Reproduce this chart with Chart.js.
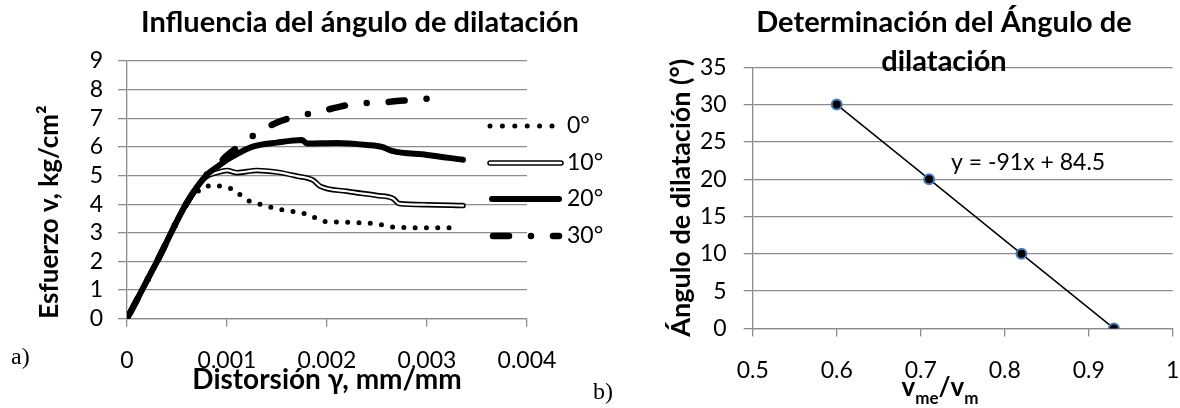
<!DOCTYPE html>
<html>
<head>
<meta charset="utf-8">
<script src="https://cdn.jsdelivr.net/npm/chart.js@4.4.0/dist/chart.umd.min.js"></script>
<style>
  html, body { margin: 0; padding: 0; background: #fff; overflow: hidden; width: 1180px; height: 408px; }
  #left { position: absolute; left: 0; top: 0; }
  #right { position: absolute; left: 600px; top: 0; }
  .tag { position: absolute; font-family: 'Liberation Serif', serif; font-size: 24px; color: #000; }
</style>
</head>
<body>
<canvas id="left" width="720" height="408"></canvas>
<canvas id="right" width="688" height="408"></canvas>
<div class="tag" style="left:11px; top:343px;">a)</div>
<div class="tag" style="left:593px; top:378px;">b)</div>
<script>
// Left chart: stress vs strain for each dilatation angle
const seriesNames = ['0°', '10°', '20°', '30°'];

const strain0 = [0, 0.0003, 0.00059, 0.00075, 0.00086, 0.00098, 0.00109, 0.00117, 0.0013, 0.0015, 0.0017, 0.00184, 0.00194, 0.0021, 0.0023, 0.0025, 0.0027, 0.0029, 0.0031, 0.0033];
const stress0 = [0, 2, 4, 4.55, 4.65, 4.6, 4.46, 4.2, 4.03, 3.84, 3.72, 3.6, 3.42, 3.38, 3.35, 3.31, 3.19, 3.18, 3.18, 3.18];

const strain10 = [0, 0.0003, 0.00059, 0.00079, 0.0009, 0.001, 0.0011, 0.0013, 0.0015, 0.0017, 0.00186, 0.00193, 0.0022, 0.0025, 0.00266, 0.00272, 0.003, 0.00336];
const stress10 = [0, 2, 4, 4.95, 5.1, 5.18, 5.1, 5.18, 5.12, 4.98, 4.84, 4.63, 4.45, 4.3, 4.2, 4.02, 3.98, 3.95];

const strain20 = [0, 0.0003, 0.00059, 0.00079, 0.0009, 0.001, 0.0011, 0.00125, 0.0015, 0.00175, 0.0018, 0.0021, 0.0024, 0.00255, 0.00265, 0.003, 0.00336];
const stress20 = [0, 2, 4, 5.0, 5.3, 5.55, 5.75, 6.0, 6.15, 6.24, 6.12, 6.14, 6.07, 6.0, 5.86, 5.72, 5.55];

const strain30 = [0, 0.0003, 0.00059, 0.00079, 0.0009, 0.001, 0.00115, 0.0013, 0.0015, 0.0017, 0.0019, 0.0021, 0.0023, 0.0025, 0.0027, 0.0029, 0.0032];
const stress30 = [0, 2, 4, 5.0, 5.35, 5.7, 6.1, 6.48, 6.85, 7.07, 7.21, 7.38, 7.52, 7.54, 7.6, 7.66, 7.72];

const leftXTicks = [0, 0.001, 0.002, 0.003, 0.004];
const leftXLabels = ['0', '0.001', '0.002', '0.003', '0.004'];
const leftYTicks = [0, 1, 2, 3, 4, 5, 6, 7, 8, 9];
const leftYLabels = ['0', '1', '2', '3', '4', '5', '6', '7', '8', '9'];

// Right chart: dilatation angle vs v_me/v_m
const velRatio = [0.6, 0.71, 0.82, 0.93];
const dilAngle = [30, 20, 10, 0];
const rightXTicks = [0.5, 0.6, 0.7, 0.8, 0.9, 1];
const rightXLabels = ['0.5', '0.6', '0.7', '0.8', '0.9', '1'];
const rightYTicks = [0, 5, 10, 15, 20, 25, 30, 35];
const rightYLabels = ['0', '5', '10', '15', '20', '25', '30', '35'];
const trendText = 'y = -91x + 84.5';

const GRID = '#8c8c8c';
Chart.defaults.font.family = 'Lato';
Chart.defaults.color = '#000';

function pts(xs, ys) {
    return xs.map((x, i) => ({ x: x, y: ys[i] }));
}

function fixedAxis(values, labels, extra) {
    return Object.assign({
        type: 'linear',
        min: values[0],
        max: values[values.length - 1],
        afterBuildTicks: s => { s.ticks = values.map(v => ({ value: v })); }
    }, extra);
}

function stroke(ctx, x1, x2, y, width, color, dash, offset) {
    ctx.beginPath();
    ctx.lineWidth = width;
    ctx.strokeStyle = color;
    ctx.lineCap = 'round';
    ctx.setLineDash(dash || []);
    ctx.lineDashOffset = offset || 0;
    ctx.moveTo(x1, y);
    ctx.lineTo(x2, y);
    ctx.stroke();
}

// legend sits over the plot, on the right side
const sideLegend = {
    id: 'sideLegend',
    afterDraw(chart) {
        const ctx = chart.ctx;
        const rows = [126, 163, 199, 236];
        ctx.save();
        stroke(ctx, 490, 552, rows[0], 5, '#000', [0, 12.4]);
        stroke(ctx, 490, 561, rows[1], 5.5, '#000');
        stroke(ctx, 490, 561, rows[1], 2.5, '#fff');
        stroke(ctx, 492, 559, rows[2], 6, '#000');
        stroke(ctx, 493, 559, rows[3], 6.5, '#000', [16, 22, 0, 22]);
        ctx.setLineDash([]);
        ctx.fillStyle = '#000';
        ctx.font = '23px Lato';
        ctx.textBaseline = 'middle';
        ctx.textAlign = 'left';
        seriesNames.forEach((name, i) => ctx.fillText(name, 567, rows[i]));
        ctx.restore();
    }
};

const rightNotes = {
    id: 'rightNotes',
    afterDraw(chart) {
        const ctx = chart.ctx;
        ctx.save();
        ctx.fillStyle = '#000';
        ctx.font = '23px Lato';
        ctx.textBaseline = 'middle';
        ctx.textAlign = 'left';
        ctx.fillText(trendText, 351, 163);

        // x title with subscripts: v_me / v_m
        const parts = [['v', false], ['me', true], ['/v', false], ['m', true]];
        const big = 'bold 26px Lato', small = 'bold 17px Lato';
        let total = 0;
        parts.forEach(p => { ctx.font = p[1] ? small : big; total += ctx.measureText(p[0]).width; });
        let x = 340 - total / 2;
        ctx.textBaseline = 'alphabetic';
        parts.forEach(p => {
            ctx.font = p[1] ? small : big;
            ctx.fillText(p[0], x, p[1] ? 404 : 396);
            x += ctx.measureText(p[0]).width;
        });
        ctx.restore();
    }
};

new Chart(document.getElementById('left'), {
    type: 'line',
    data: {
        datasets: [
            { label: seriesNames[0], data: pts(strain0, stress0), borderColor: '#000', borderWidth: 5,
              borderDash: [0, 11.3], borderCapStyle: 'round', pointRadius: 0, order: 2 },
            { label: seriesNames[1], data: pts(strain10, stress10), borderColor: '#000', borderWidth: 5.5,
              borderCapStyle: 'round', pointRadius: 0, order: 4 },
            { label: '', data: pts(strain10, stress10), borderColor: '#fff', borderWidth: 2.2,
              borderCapStyle: 'round', pointRadius: 0, order: 3 },
            { label: seriesNames[2], data: pts(strain20, stress20), borderColor: '#000', borderWidth: 6,
              borderCapStyle: 'round', pointRadius: 0, order: 0 },
            { label: seriesNames[3], data: pts(strain30, stress30), borderColor: '#000', borderWidth: 6.5,
              borderDash: [16, 22, 0, 22], borderDashOffset: 53, borderCapStyle: 'round', pointRadius: 0, order: 1 }
        ]
    },
    options: {
        responsive: false,
        animation: false,
        layout: { padding: 0 },
        elements: { line: { tension: 0.2, cubicInterpolationMode: 'monotone', borderJoinStyle: 'round' } },
        plugins: {
            legend: { display: false },
            tooltip: { enabled: false },
            title: {
                display: true,
                text: 'Influencia del ángulo de dilatación',
                font: { size: 29, weight: 'bold' },
                padding: { top: 5.6, bottom: 20.6 }
            }
        },
        scales: {
            x: fixedAxis(leftXTicks, leftXLabels, {
                afterFit: s => { s.height = 89.3; },
                grid: { drawOnChartArea: false, color: GRID, lineWidth: 1.3, tickLength: 8 },
                border: { color: GRID, width: 1.3 },
                ticks: { autoSkip: false, maxRotation: 0, padding: 20.5, font: { size: 23 },
                         callback: (v, i) => leftXLabels[i] },
                title: { display: true, text: 'Distorsión γ, mm/mm', font: { size: 28, weight: 'bold' },
                         padding: { top: 0, bottom: 11.2 } }
            }),
            y: fixedAxis(leftYTicks, leftYLabels, {
                afterFit: s => { s.width = 127; },
                grid: { color: GRID, lineWidth: 1.3, tickLength: 9 },
                border: { color: GRID, width: 1.3 },
                ticks: { autoSkip: false, padding: 15, font: { size: 23 }, callback: (v, i) => leftYLabels[i] },
                title: { display: true, text: 'Esfuerzo v, kg/cm²', align: 'start',
                         font: { size: 26, weight: 'bold' }, padding: { top: 34.4, bottom: 0 } }
            }),
            yPad: {
                position: 'right',
                grid: { display: false }, border: { display: false }, ticks: { display: false },
                afterFit: s => { s.width = 193; }
            }
        }
    },
    plugins: [sideLegend]
});

new Chart(document.getElementById('right'), {
    type: 'line',
    data: {
        datasets: [{
            label: 'Ángulo',
            data: pts(velRatio, dilAngle),
            borderColor: '#000',
            borderWidth: 1.5,
            tension: 0,
            pointRadius: 5,
            pointBackgroundColor: '#000',
            pointBorderColor: '#4a7ebb',
            pointBorderWidth: 2
        }]
    },
    options: {
        responsive: false,
        animation: false,
        layout: { padding: 0 },
        plugins: {
            legend: { display: false },
            tooltip: { enabled: false },
            title: {
                display: true,
                text: ['Determinación del Ángulo de', 'dilatación'],
                font: { size: 29, weight: 'bold', lineHeight: 1.345 },
                padding: { top: 3.5, bottom: -14.2 }
            }
        },
        scales: {
            x: fixedAxis(rightXTicks, rightXLabels, {
                afterFit: s => { s.height = 79.6; },
                grid: { drawOnChartArea: false, color: GRID, lineWidth: 1.3, tickLength: 8 },
                border: { color: GRID, width: 1.3 },
                ticks: { autoSkip: false, maxRotation: 0, padding: 20.8, font: { size: 23 },
                         callback: (v, i) => rightXLabels[i] }
            }),
            y: fixedAxis(rightYTicks, rightYLabels, {
                afterFit: s => { s.width = 152.7; },
                grid: { color: GRID, lineWidth: 1.3, tickLength: 9 },
                border: { color: GRID, width: 1.3 },
                ticks: { autoSkip: false, padding: 17, font: { size: 23 }, callback: (v, i) => rightYLabels[i] },
                title: { display: true, text: 'Ángulo de dilatación (°)',
                         font: { size: 27, weight: 'bold' }, padding: { top: 64.8, bottom: 0 } }
            }),
            yPad: {
                position: 'right',
                grid: { display: false }, border: { display: false }, ticks: { display: false },
                afterFit: s => { s.width = 115.3; }
            }
        }
    },
    plugins: [rightNotes]
});
</script>
</body>
</html>
